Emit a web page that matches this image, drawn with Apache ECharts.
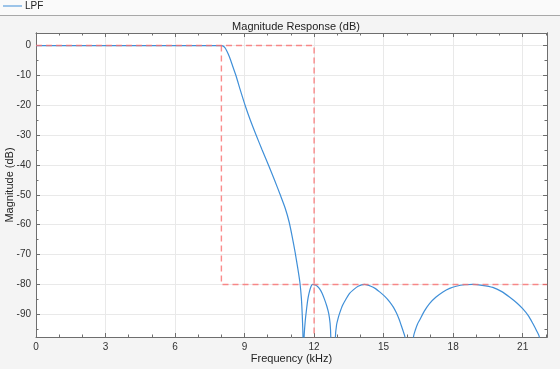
<!DOCTYPE html>
<html>
<head>
<meta charset="utf-8">
<script src="https://cdn.jsdelivr.net/npm/echarts@6/dist/echarts.min.js"></script>
<style>
html,body{margin:0;padding:0;background:#f4f4f4;}
#c{width:560px;height:369px;}
</style>
</head>
<body>
<div id="c"></div>
<script>
// ---- data ----
const freqKHz = [0, 2, 4, 6, 7, 7.8, 8.0, 8.05, 8.1, 8.15, 8.2, 8.3, 8.4, 8.5, 8.65, 8.8, 9.04, 9.25, 9.51, 9.75, 10.03, 10.3, 10.53, 10.75, 10.92, 11.05, 11.18, 11.3, 11.39, 11.45, 11.49, 11.52, 11.545, 11.57, 11.62, 11.67, 11.72, 11.78, 11.87, 11.95, 12.05, 12.15, 12.24, 12.35, 12.45, 12.55, 12.63, 12.69, 12.72, 12.82, 12.92, 12.97, 13.03, 13.1, 13.23, 13.39, 13.53, 13.68, 13.9, 14.18, 14.45, 14.65, 14.83, 15.05, 15.26, 15.42, 15.55, 15.66, 15.75, 15.85, 15.92, 16.1, 16.29, 16.38, 16.46, 16.55, 16.75, 16.98, 17.25, 17.56, 17.85, 18.13, 18.5, 18.85, 19.25, 19.71, 20.1, 20.43, 20.75, 21.0, 21.25, 21.44, 21.6, 21.72, 21.9, 22.05];
const magDb   = [0, 0, 0, 0, 0, 0, 0, -0.1, -0.3, -0.7, -1.3, -2.9, -4.9, -7.2, -10.6, -14.5, -20.4, -25.0, -30.2, -34.8, -40.0, -45.2, -49.8, -54.4, -59.0, -63.8, -69.2, -74.8, -79.5, -84.5, -90.5, -97.6, -150, -97.6, -92.0, -88.6, -85.5, -83.0, -80.6, -80.0, -80.2, -80.7, -81.5, -83.0, -85.0, -87.3, -89.7, -93.0, -97.6, -150, -97.6, -93.5, -91.5, -89.7, -87.0, -84.7, -83.0, -81.9, -80.6, -80.0, -80.6, -81.4, -82.5, -84.0, -85.8, -87.6, -89.5, -91.5, -93.5, -95.8, -97.6, -150, -97.6, -95.0, -93.3, -92.0, -89.0, -86.4, -84.3, -82.5, -81.3, -80.6, -80.1, -80.0, -80.3, -81.0, -82.4, -84.2, -86.2, -88.1, -90.5, -93.1, -95.5, -97.6, -115, -150];
const passMaskKHz = [0, 12, 12];
const passMaskDb  = [0, 0, -200];
const stopMaskKHz = [8, 8, 22.05];
const stopMaskDb  = [0, -80, -80];
const xRange = [0, 22.05];
const xStep = 3;
const yRange = [-97.6, 4.2];
const yMajorTicks = [0, -10, -20, -30, -40, -50, -60, -70, -80, -90];
const yMinorTicks = [-5, -15, -25, -35, -45, -55, -65, -75, -85, -95];

const pairs = (xs, ys) => xs.map((x, i) => [x, ys[i]]);

const FONT = 'Liberation Sans';
const AX = '#6e6e6e';
const GRIDC = '#e9e9e9';

function xAxisDef(pos, withLabels) {
  return {
    type: 'value', position: pos, min: xRange[0], max: xRange[1], interval: xStep,
    name: withLabels ? 'Frequency (kHz)' : '', nameLocation: 'middle', nameGap: 16, nameMoveOverlap: false,
    nameTextStyle: {fontFamily: FONT, fontSize: 11, color: '#222'},
    axisLine: {show: true, onZero: false, lineStyle: {color: AX, width: 1}},
    axisTick: {show: true, inside: true, length: 4, lineStyle: {color: AX}},
    minorTick: {show: true, splitNumber: 3, length: 2.5, lineStyle: {color: AX}},
    axisLabel: {show: withLabels, showMaxLabel: false, fontFamily: FONT, fontSize: 10, color: '#333', margin: 5},
    splitLine: {show: withLabels, lineStyle: {color: GRIDC, width: 1}},
    minorSplitLine: {show: false}
  };
}
function yAxisDef(pos, ticks, withLabels, len) {
  return {
    type: 'value', position: pos, min: yRange[0], max: yRange[1], offset: 0,
    name: withLabels ? 'Magnitude (dB)' : '', nameLocation: 'middle', nameGap: 21, nameMoveOverlap: false,
    nameTextStyle: {fontFamily: FONT, fontSize: 11, color: '#222'},
    axisLine: {show: true, onZero: false, lineStyle: {color: AX, width: 1}},
    axisTick: {show: true, inside: true, length: len, customValues: ticks, lineStyle: {color: AX}},
    axisLabel: {show: withLabels, customValues: ticks, fontFamily: FONT, fontSize: 10, color: '#333', margin: 5},
    splitLine: {show: withLabels, lineStyle: {color: GRIDC, width: 1}}
  };
}

const chart = echarts.init(document.getElementById('c'), null, {renderer: 'canvas'});
chart.setOption({
  backgroundColor: '#f4f4f4',
  animation: false,
  graphic: [
    {type: 'rect', z: -10, shape: {x: 0, y: 0, width: 560, height: 15}, style: {fill: '#fafafa'}},
    {type: 'line', z: -9, shape: {x1: 0, y1: 15.5, x2: 560, y2: 15.5}, style: {stroke: '#a8a8a8', lineWidth: 1}}
  ],
  title: {
    text: 'Magnitude Response (dB)', left: 291, top: 16, textAlign: 'center',
    textStyle: {fontFamily: FONT, fontSize: 11, fontWeight: 'normal', color: '#222'}
  },
  legend: {
    left: 3, top: 1, padding: 0, itemWidth: 19, itemHeight: 1, itemGap: 5,
    data: [{name: 'LPF', icon: 'rect'}],
    textStyle: {fontFamily: FONT, fontSize: 10, color: '#222', padding: [0, 0, 0, -2]}
  },
  grid: {left: 36, right: 13, top: 33, bottom: 32, show: true, backgroundColor: '#ffffff', borderWidth: 0,
         containLabel: false, outerBoundsMode: 'none'},
  xAxis: [xAxisDef('bottom', true), xAxisDef('top', false)],
  yAxis: [
    yAxisDef('left', yMajorTicks, true, 4),
    yAxisDef('right', yMajorTicks, false, 4),
    yAxisDef('left', yMinorTicks, false, 2.5),
    yAxisDef('right', yMinorTicks, false, 2.5)
  ],
  series: [
    {
      name: 'LPF', type: 'line', xAxisIndex: 0, yAxisIndex: 0,
      data: pairs(freqKHz, magDb), showSymbol: false, symbol: 'none',
      smooth: 0.25, clip: true,
      lineStyle: {color: '#3f8fd8', width: 1.2}, itemStyle: {color: '#3f8fd8'}, z: 3
    },
    {
      name: 'passMask', type: 'line', xAxisIndex: 0, yAxisIndex: 0,
      data: pairs(passMaskKHz, passMaskDb), showSymbol: false, symbol: 'none', clip: true,
      lineStyle: {color: 'rgba(250,110,110,0.8)', width: 1.4, type: [6, 4]}, z: 4, silent: true
    },
    {
      name: 'stopMask', type: 'line', xAxisIndex: 0, yAxisIndex: 0,
      data: pairs(stopMaskKHz, stopMaskDb), showSymbol: false, symbol: 'none', clip: true,
      lineStyle: {color: 'rgba(250,110,110,0.8)', width: 1.4, type: [6, 4]}, z: 4, silent: true
    }
  ]
});
</script>
</body>
</html>
